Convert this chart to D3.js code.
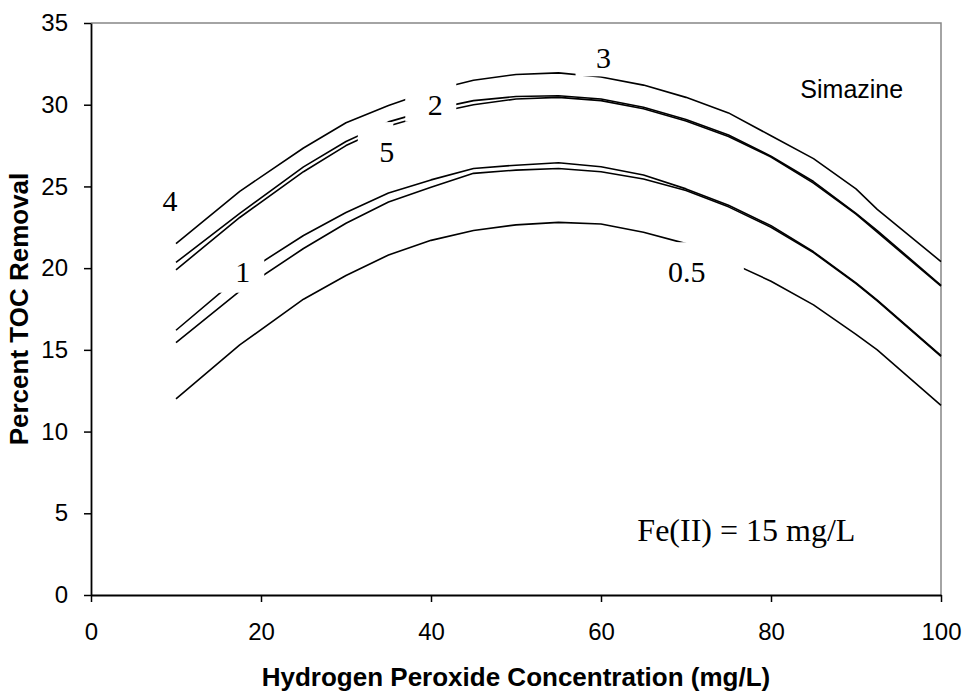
<!DOCTYPE html>
<html>
<head>
<meta charset="utf-8">
<script src="https://cdn.jsdelivr.net/npm/d3@7"></script>
<style>
  body { margin: 0; background: #fff; }
  svg { display: block; }
</style>
</head>
<body>
<svg id="chart"></svg>
<script>
// H2O2 dose (mg/L) where the model curves were evaluated
const hpConc = [10, 17.5, 25, 30, 35, 40, 45, 50, 55, 60, 65, 70, 75, 80, 85, 90, 92.5, 100];

// percent TOC removal, one array per curve
const toc3 = [21.5, 24.7, 27.35, 28.9, 29.95, 30.85, 31.5, 31.85, 31.95, 31.7, 31.2, 30.45, 29.5, 28.1, 26.7, 24.85, 23.6, 20.4];
const toc2 = [20.35, 23.35, 26.2, 27.75, 28.95, 29.7, 30.25, 30.5, 30.55, 30.35, 29.85, 29.1, 28.15, 26.85, 25.3, 23.35, 22.3, 18.95];
const toc5 = [19.9, 23.1, 25.9, 27.5, 28.7, 29.45, 30.0, 30.35, 30.45, 30.25, 29.75, 29.0, 28.05, 26.8, 25.2, 23.3, 22.2, 18.9];
const toc1 = [16.2, 19.5, 22.0, 23.4, 24.6, 25.4, 26.1, 26.3, 26.45, 26.2, 25.7, 24.85, 23.85, 22.6, 21.0, 19.1, 18.05, 14.65];
const toc4 = [15.45, 18.6, 21.2, 22.75, 24.05, 24.95, 25.8, 26.0, 26.1, 25.9, 25.45, 24.75, 23.75, 22.5, 20.95, 19.05, 18.0, 14.6];
const toc05 = [12.0, 15.3, 18.1, 19.55, 20.8, 21.7, 22.3, 22.65, 22.8, 22.7, 22.2, 21.5, 20.4, 19.2, 17.75, 15.95, 15.0, 11.6];

// curve labels (text + where they sit, in data units)
const labelText = ["4", "1", "5", "2", "3", "0.5"];
const labelX = [9.3, 17.85, 34.8, 40.5, 60.3, 70.1];
const labelY = [24.15, 19.75, 27.1, 30.0, 32.9, 19.75];

const xTicks = [0, 20, 40, 60, 80, 100];
const yTicks = [0, 5, 10, 15, 20, 25, 30, 35];

const width = 964,
	height = 691,
	margin = { top: 23, right: 23, bottom: 96, left: 91 };

const svg = d3.select("#chart").attr("width", width).attr("height", height);

const x = d3.scaleLinear().domain([0, 100]).range([margin.left, width - margin.right]);
const y = d3.scaleLinear().domain([0, 35]).range([height - margin.bottom, margin.top]);

// gray frame on top and right
svg.append("path")
	.attr("d", `M${x(0)},${y(35)}H${x(100)}V${y(0)}`)
	.attr("fill", "none")
	.attr("stroke", "#868686")
	.attr("stroke-width", 1.5);

const series = [toc3, toc2, toc5, toc1, toc4, toc05];

const line = d3.line()
	.x((d, i) => x(hpConc[i]))
	.y(d => y(d));

svg.append("g")
	.selectAll("path")
	.data(series)
	.enter()
	.append("path")
	.attr("d", line)
	.attr("fill", "none")
	.attr("stroke", "#000")
	.attr("stroke-width", 1.6)
	.attr("stroke-linejoin", "round");

// axes
const xAxis = svg.append("g")
	.attr("transform", `translate(0,${y(0)})`)
	.call(d3.axisBottom(x).tickValues(xTicks).tickSize(7).tickPadding(21).tickSizeOuter(0));

const yAxis = svg.append("g")
	.attr("transform", `translate(${x(0)},0)`)
	.call(d3.axisLeft(y).tickValues(yTicks).tickSize(7).tickPadding(16).tickSizeOuter(0));

[xAxis, yAxis].forEach(g => {
	g.selectAll("text")
		.attr("font-family", "Arial, 'Liberation Sans', sans-serif")
		.attr("font-size", "24px")
		.attr("fill", "#000");
	g.selectAll("line").attr("stroke", "#000").attr("stroke-width", 1.5);
});
xAxis.select(".domain").attr("stroke", "#000").attr("stroke-width", 2.2);
yAxis.select(".domain").attr("stroke", "#000").attr("stroke-width", 1.8);

// axis titles
svg.append("text")
	.attr("x", (x(0) + x(100)) / 2)
	.attr("y", 686)
	.attr("text-anchor", "middle")
	.attr("font-family", "Arial, 'Liberation Sans', sans-serif")
	.attr("font-weight", "bold")
	.attr("font-size", "26px")
	.text("Hydrogen Peroxide Concentration (mg/L)");

svg.append("text")
	.attr("transform", `translate(28,${(y(0) + y(35)) / 2}) rotate(-90)`)
	.attr("text-anchor", "middle")
	.attr("font-family", "Arial, 'Liberation Sans', sans-serif")
	.attr("font-weight", "bold")
	.attr("font-size", "26px")
	.text("Percent TOC Removal");

// white boxes behind the curve labels (left, top, right, bottom from glyph centre)
const boxPad = [[-20, -25, 20, 20], [-30, -30, 21.5, 20.5], [-29, -30, 6.5, 20], [-30, -30, 21, 17], [-28, -30, 20, 19], [-45, -30, 57, 20]];

const labels = svg.append("g").attr("class", "labels");

labels.selectAll("rect")
	.data(labelText)
	.enter()
	.append("rect")
	.attr("x", (d, i) => x(labelX[i]) + boxPad[i][0])
	.attr("y", (d, i) => y(labelY[i]) + boxPad[i][1])
	.attr("width", (d, i) => boxPad[i][2] - boxPad[i][0])
	.attr("height", (d, i) => boxPad[i][3] - boxPad[i][1])
	.attr("fill", "#fff");

const serifFs = 30;
labels.selectAll("text")
	.data(labelText)
	.enter()
	.append("text")
	.attr("x", (d, i) => x(labelX[i]))
	.attr("y", (d, i) => y(labelY[i]) + serifFs * 0.34)
	.attr("text-anchor", "middle")
	.attr("font-family", "'Times New Roman', 'Liberation Serif', serif")
	.attr("font-size", serifFs + "px")
	.text(d => d);

svg.append("text")
	.attr("x", x(89.5))
	.attr("y", y(30.93) + 25 * 0.355)
	.attr("text-anchor", "middle")
	.attr("font-family", "Arial, 'Liberation Sans', sans-serif")
	.attr("font-size", "25px")
	.text("Simazine");

svg.append("text")
	.attr("x", x(77.1))
	.attr("y", y(3.98) + 32 * 0.33)
	.attr("text-anchor", "middle")
	.attr("font-family", "'Times New Roman', 'Liberation Serif', serif")
	.attr("font-size", "32px")
	.text("Fe(II) = 15 mg/L");
</script>
</body>
</html>
